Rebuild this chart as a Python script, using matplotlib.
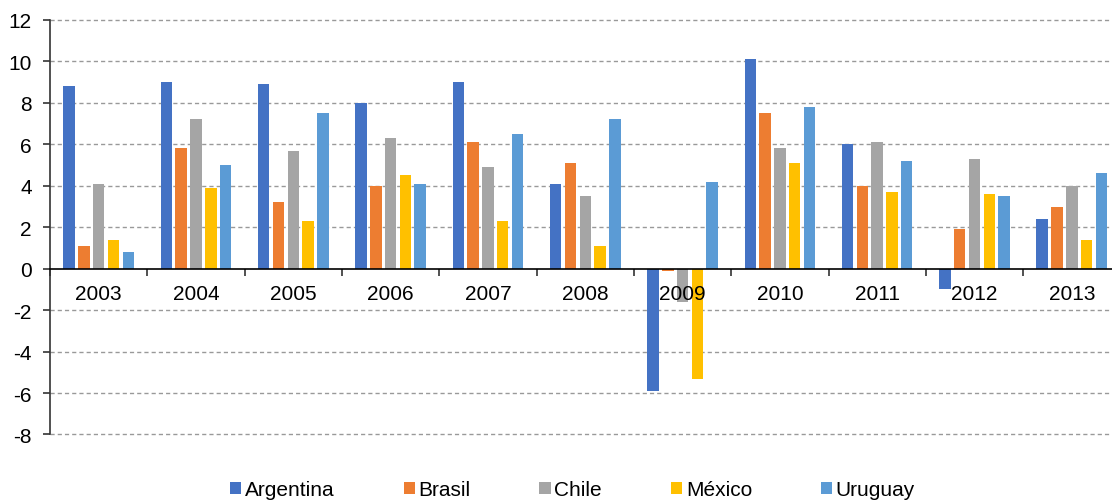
import matplotlib
matplotlib.use("Agg")
import matplotlib.pyplot as plt
import numpy as np

plt.rcParams["font.family"] = ["Liberation Sans", "DejaVu Sans"]
plt.rcParams["axes.unicode_minus"] = False

years = ["2003", "2004", "2005", "2006", "2007", "2008",
         "2009", "2010", "2011", "2012", "2013"]
argentina = [8.8, 9.0, 8.9, 8.0, 9.0, 4.1, -5.9, 10.1, 6.0, -1.0, 2.4]
brasil = [1.1, 5.8, 3.2, 4.0, 6.1, 5.1, -0.1, 7.5, 4.0, 1.9, 3.0]
chile = [4.1, 7.2, 5.7, 6.3, 4.9, 3.5, -1.6, 5.8, 6.1, 5.3, 4.0]
mexico = [1.4, 3.9, 2.3, 4.5, 2.3, 1.1, -5.3, 5.1, 3.7, 3.6, 1.4]
uruguay = [0.8, 5.0, 7.5, 4.1, 6.5, 7.2, 4.2, 7.8, 5.2, 3.5, 4.6]

series = [
    ("Argentina", argentina, "#4472C4"),
    ("Brasil", brasil, "#ED7D31"),
    ("Chile", chile, "#A5A5A5"),
    ("México", mexico, "#FFC000"),
    ("Uruguay", uruguay, "#5B9BD5"),
]

fig = plt.figure(figsize=(11.12, 5.02), dpi=100)
ax = fig.add_axes([0.045, 0.1325, 0.9626, 0.8257])
ax.set_axisbelow(False)

x = np.arange(len(years))
pitch = 0.152
width = 0.118
for i, (name, vals, color) in enumerate(series):
    ax.bar(x + (i - 2) * pitch, vals, width=width, color=color,
           label=name, zorder=2)

ax.set_xlim(-0.5, len(years) - 0.5)
ax.set_ylim(-8, 12)
ax.set_yticks(np.arange(-8, 13, 2))

# dashed horizontal gridlines, skipping the zero line
for yv in np.arange(-8, 13, 2):
    if yv != 0:
        ax.axhline(yv, color="#999999", lw=1.0, ls=(0, (3, 2.2)),
                   zorder=1, clip_on=False)

for side in ("top", "right"):
    ax.spines[side].set_visible(False)
ax.spines["left"].set_color("#333333")
ax.spines["left"].set_linewidth(1.2)
ax.spines["bottom"].set_position(("data", 0))
ax.spines["bottom"].set_color("#000000")
ax.spines["bottom"].set_linewidth(1.2)
ax.spines["bottom"].set_zorder(3)

ax.set_xticks(x)
ax.set_xticklabels(years)
ax.set_xticks(np.arange(-0.5, len(years), 1.0), minor=True)
ax.tick_params(axis="x", which="major", length=0, pad=11, labelsize=15)
ax.tick_params(axis="x", which="minor", length=5, width=1.2,
               direction="out", color="#333333")
ax.tick_params(axis="y", which="major", length=5, width=1.2,
               direction="out", color="#333333", pad=8, labelsize=15)

fig.legend(loc="center", bbox_to_anchor=(0.515, 0.022), ncol=5,
           frameon=False, fontsize=15, handlelength=0.53,
           handleheight=0.48, handletextpad=0.19, columnspacing=3.3,
           borderaxespad=0, borderpad=0)

fig.savefig("out.png", dpi=100)
